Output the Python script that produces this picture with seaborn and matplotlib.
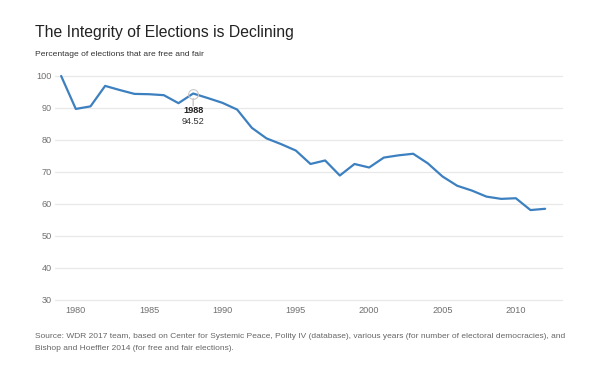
import matplotlib
matplotlib.use("Agg")
import matplotlib.pyplot as plt
import seaborn as sns
import pandas as pd

# data
years = list(range(1979, 2013))
free_fair_pct = [100.0, 89.7, 90.5, 96.9, 95.6, 94.4, 94.3, 94.0, 91.5, 94.52,
                 93.1, 91.6, 89.5, 83.8, 80.5, 78.7, 76.7, 72.5, 73.6, 68.9,
                 72.5, 71.4, 74.5, 75.2, 75.7, 72.7, 68.6, 65.7, 64.2, 62.3,
                 61.6, 61.8, 58.1, 58.5]
x_ticks = [1980, 1985, 1990, 1995, 2000, 2005, 2010]
y_ticks = [30, 40, 50, 60, 70, 80, 90, 100]
highlight_year = 1988

df = pd.DataFrame({"year": years, "pct": free_fair_pct})

sns.set_style("white")
plt.rcParams["font.family"] = ["Liberation Sans", "DejaVu Sans"]

fig = plt.figure(figsize=(5.96, 3.81), dpi=100)
ax = fig.add_axes([0.092, 0.2126, 0.851, 0.588])

sns.lineplot(data=df, x="year", y="pct", ax=ax, color="#3d80c0",
             linewidth=1.6, clip_on=False, zorder=3)

ax.set_xlim(1978.57, 2013.15)
ax.set_ylim(30, 100)
ax.set_xticks(x_ticks)
ax.set_yticks(y_ticks)
ax.set_xlabel("")
ax.set_ylabel("")
ax.grid(axis="y", color="#e8e8e8", linewidth=0.9)
ax.grid(axis="x", visible=False)
for gl in ax.get_ygridlines():
    gl.set_clip_on(False)
for s in ax.spines.values():
    s.set_visible(False)
ax.tick_params(axis="both", length=0, labelsize=6.6, labelcolor="#707070")
ax.tick_params(axis="y", pad=2.0)
ax.tick_params(axis="x", pad=4.0)

# hover marker on 1988
hv = df[df["year"] == highlight_year].iloc[0]
ax.plot([hv["year"]], [hv["pct"]], marker="o", markersize=7,
        markerfacecolor="none", markeredgecolor="#c8c8c8",
        markeredgewidth=0.8, zorder=4, clip_on=False)
ax.annotate("", xy=(hv["year"], hv["pct"]), xytext=(0, -9),
            textcoords="offset points", xycoords="data",
            arrowprops=dict(arrowstyle="-", color="#aaaaaa", lw=0.7,
                            shrinkA=0, shrinkB=3.5))
ax.annotate(str(highlight_year), xy=(hv["year"], hv["pct"]),
            xytext=(0, -12.5), textcoords="offset points",
            ha="center", va="center", fontsize=6.6, fontweight="bold",
            color="#222222")
ax.annotate(f"{hv['pct']:.2f}", xy=(hv["year"], hv["pct"]),
            xytext=(0, -20.5), textcoords="offset points",
            ha="center", va="center", fontsize=6.6, color="#333333")

fig.text(35 / 596, 1 - 32 / 381, "The Integrity of Elections is Declining",
         fontsize=11.3, color="#222222", va="center", ha="left")
fig.text(35 / 596, 1 - 54 / 381, "Percentage of elections that are free and fair",
         fontsize=6.1, color="#333333", va="center", ha="left")
fig.text(35 / 596, 1 - 337 / 381,
         "Source: WDR 2017 team, based on Center for Systemic Peace, Polity IV (database), "
         "various years (for number of electoral democracies), and",
         fontsize=6.0, color="#666666", va="center", ha="left")
fig.text(35 / 596, 1 - 349 / 381,
         "Bishop and Hoeffler 2014 (for free and fair elections).",
         fontsize=6.0, color="#666666", va="center", ha="left")

fig.savefig("out.png", dpi=100, facecolor="white")
